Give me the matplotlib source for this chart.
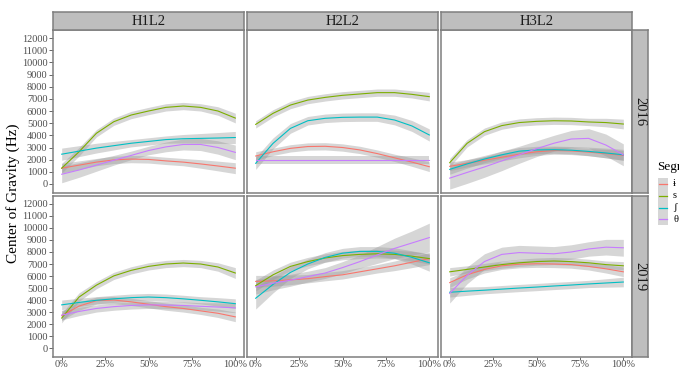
import numpy as np
import matplotlib.pyplot as plt
from matplotlib.patches import Rectangle

plt.rcParams['font.family'] = ['Liberation Serif', 'DejaVu Serif']

# ----------------- Data -----------------
pos = [0, 10, 20, 30, 40, 50, 60, 70, 80, 90, 100]   # % of segment
segments = ['ɨ', 's', 'ʃ', 'θ']
speakers = ['H1L2', 'H2L2', 'H3L2']
years = ['2016', '2019']
colors = ['#F8766D', '#7CAE00', '#00BFC4', '#C77CFF']

# 2016
h1_2016 = [
    [1300, 1550, 1800, 1980, 2050, 2020, 1900, 1800, 1650, 1480, 1300],
    [1300, 2650, 4170, 5120, 5670, 6000, 6300, 6410, 6300, 6000, 5420],
    [2450, 2700, 2950, 3150, 3350, 3500, 3650, 3720, 3750, 3780, 3820],
    [800, 1150, 1550, 1950, 2350, 2750, 3050, 3250, 3250, 3000, 2600],
]
h1_2016_se = [
    [400, 350, 300, 300, 300, 300, 300, 300, 350, 400, 450],
    [400, 350, 300, 300, 300, 300, 300, 300, 300, 350, 400],
    [500, 450, 400, 350, 300, 300, 300, 350, 400, 450, 500],
    [700, 600, 500, 400, 350, 350, 400, 450, 500, 550, 600],
]
h2_2016 = [
    [2300, 2650, 2930, 3080, 3100, 3000, 2800, 2500, 2150, 1800, 1420],
    [4900, 5810, 6490, 6900, 7120, 7290, 7400, 7510, 7510, 7370, 7180],
    [1700, 3340, 4570, 5200, 5400, 5480, 5500, 5500, 5260, 4770, 4030],
    [1970, 1970, 1970, 1970, 1970, 1970, 1970, 1970, 1970, 1970, 1970],
]
h2_2016_se = [
    [350, 300, 300, 300, 300, 300, 300, 300, 300, 350, 400],
    [300, 300, 300, 300, 300, 300, 300, 300, 300, 300, 350],
    [500, 450, 400, 350, 350, 350, 350, 350, 400, 450, 500],
    [350, 350, 350, 350, 350, 350, 350, 350, 350, 350, 350],
]
h3_2016 = [
    [1450, 1700, 1950, 2200, 2450, 2650, 2750, 2720, 2620, 2500, 2350],
    [1750, 3340, 4300, 4800, 5050, 5150, 5200, 5180, 5100, 5050, 4930],
    [1200, 1650, 2050, 2400, 2700, 2800, 2820, 2780, 2680, 2550, 2400],
    [480, 950, 1400, 1900, 2400, 2900, 3350, 3700, 3750, 3200, 2400],
]
h3_2016_se = [
    [350, 300, 300, 300, 300, 300, 300, 300, 300, 350, 400],
    [350, 300, 300, 300, 300, 300, 300, 300, 300, 350, 400],
    [400, 350, 300, 300, 300, 300, 300, 300, 350, 400, 450],
    [900, 900, 850, 800, 700, 650, 650, 700, 800, 900, 900],
]
# 2019
h1_2019 = [
    [2700, 3500, 3950, 4000, 3850, 3650, 3450, 3300, 3100, 2900, 2600],
    [2500, 4250, 5240, 6010, 6470, 6800, 7000, 7080, 7000, 6750, 6250],
    [3600, 3800, 3980, 4100, 4200, 4250, 4200, 4100, 3980, 3850, 3700],
    [2750, 3050, 3300, 3450, 3550, 3600, 3580, 3550, 3480, 3420, 3350],
]
h1_2019_se = [
    [400, 350, 300, 300, 300, 300, 300, 300, 300, 350, 400],
    [400, 350, 300, 300, 300, 300, 300, 300, 300, 350, 450],
    [400, 350, 300, 300, 300, 300, 300, 300, 300, 350, 400],
    [400, 350, 300, 300, 300, 300, 300, 300, 300, 350, 400],
]
h2_2019 = [
    [5550, 5600, 5680, 5780, 5950, 6100, 6350, 6600, 6850, 7150, 7450],
    [5200, 6100, 6800, 7200, 7500, 7700, 7800, 7850, 7800, 7650, 7450],
    [4150, 5300, 6300, 7000, 7550, 7900, 8050, 8050, 7900, 7550, 7100],
    [5100, 5400, 5650, 5950, 6250, 6700, 7200, 7750, 8300, 8750, 9200],
]
h2_2019_se = [
    [500, 450, 400, 350, 350, 350, 350, 350, 400, 450, 500],
    [450, 400, 350, 350, 350, 350, 350, 350, 350, 400, 450],
    [900, 700, 500, 400, 400, 400, 400, 400, 450, 550, 700],
    [600, 550, 500, 450, 450, 500, 550, 700, 850, 1000, 1200],
]
h3_2019 = [
    [5450, 6100, 6550, 6850, 6980, 7020, 7000, 6950, 6800, 6600, 6350],
    [6350, 6550, 6750, 6950, 7100, 7200, 7250, 7200, 7100, 6950, 6850],
    [4650, 4740, 4820, 4910, 5000, 5080, 5170, 5250, 5340, 5420, 5500],
    [4550, 6050, 7200, 7800, 7950, 7900, 7850, 8000, 8250, 8400, 8350],
]
h3_2019_se = [
    [400, 350, 300, 300, 300, 300, 300, 300, 300, 350, 400],
    [350, 300, 300, 300, 300, 300, 300, 300, 300, 300, 350],
    [400, 350, 300, 300, 300, 300, 300, 300, 300, 350, 400],
    [800, 700, 650, 600, 600, 600, 600, 600, 600, 650, 700],
]

panels = {
    ('2016', 'H1L2'): (h1_2016, h1_2016_se),
    ('2016', 'H2L2'): (h2_2016, h2_2016_se),
    ('2016', 'H3L2'): (h3_2016, h3_2016_se),
    ('2019', 'H1L2'): (h1_2019, h1_2019_se),
    ('2019', 'H2L2'): (h2_2019, h2_2019_se),
    ('2019', 'H3L2'): (h3_2019, h3_2019_se),
}

yticks = list(range(0, 12001, 1000))
xticks = [0, 25, 50, 75, 100]
xticklabels = ['0%', '25%', '50%', '75%', '100%']

# ----------------- Layout (pixels) -----------------
W, H = 679, 368
fig = plt.figure(figsize=(W / 100, H / 100), dpi=100)

def px_box(x0, y0, x1, y1):
    return [x0 / W, 1 - y1 / H, (x1 - x0) / W, (y1 - y0) / H]

col_x = [(53, 244), (247, 438), (441, 632)]
row_y = [(30, 193), (196, 357)]
border = '#7F7F7F'
strip_fill = '#BEBEBE'
tick_col = '#4D4D4D'

for r, yr in enumerate(years):
    for c, spk in enumerate(speakers):
        x0, x1 = col_x[c]
        y0, y1 = row_y[r]
        ax = fig.add_axes(px_box(x0, y0, x1, y1))
        vals, ses = panels[(yr, spk)]
        for k in range(len(segments)):
            v = np.array(vals[k])
            s = np.array(ses[k])
            ax.fill_between(pos, v - s, v + s, color='#999999', alpha=0.4, lw=0)
        for k in range(len(segments)):
            ax.plot(pos, vals[k], color=colors[k], lw=0.8)
        ax.set_xlim(-5, 105)
        ax.set_ylim(-740, 12660)
        for sp in ax.spines.values():
            sp.set_color(border)
            sp.set_linewidth(1.1)
        ax.set_yticks(yticks)
        ax.set_xticks(xticks)
        ax.tick_params(axis='y', colors=tick_col, length=3, width=0.6, labelsize=7.5, pad=1)
        ax.tick_params(axis='x', colors=tick_col, length=2, width=0.6, labelsize=7.5, pad=0.5)
        if c == 0:
            ax.set_yticklabels([str(t) for t in yticks])
        else:
            ax.tick_params(axis='y', length=0, labelleft=False)
        if r == 1:
            ax.set_xticklabels(xticklabels)
        else:
            ax.tick_params(axis='x', length=0, labelbottom=False)
        for lab in ax.get_xticklabels() + ax.get_yticklabels():
            lab.set_color(tick_col)

# top strips
for c, spk in enumerate(speakers):
    x0, x1 = col_x[c]
    sax = fig.add_axes(px_box(x0, 12, x1, 30))
    sax.set_facecolor(strip_fill)
    sax.set_xticks([])
    sax.set_yticks([])
    for sp in sax.spines.values():
        sp.set_color(border)
        sp.set_linewidth(1.1)
    sax.text(0.5, 0.45, spk, ha='center', va='center', fontsize=10.5, color='#1A1A1A',
             transform=sax.transAxes)

# right strips
for r, yr in enumerate(years):
    y0, y1 = row_y[r]
    sax = fig.add_axes(px_box(632, y0, 648, y1))
    sax.set_facecolor(strip_fill)
    sax.set_xticks([])
    sax.set_yticks([])
    for sp in sax.spines.values():
        sp.set_color(border)
        sp.set_linewidth(1.1)
    sax.text(0.5, 0.5, yr, ha='center', va='center', fontsize=10.5, color='#1A1A1A',
             rotation=-90, transform=sax.transAxes)

# y label
fig.text(13 / W, 1 - 193 / H, 'Center of Gravity (Hz)', rotation=90, ha='center',
         va='center', fontsize=11, color='black')

# legend (cut off at the right edge as in the original)
fig.text(657 / W, 1 - 167 / H, 'Segment', ha='left', va='center', fontsize=9.5)
lax = fig.add_axes([0, 0, 1, 1], facecolor='none')
lax.set_xlim(0, W)
lax.set_ylim(H, 0)
lax.axis('off')
key_y = [184, 196, 208, 219]
for k, seg in enumerate(segments):
    yc = key_y[k]
    lax.add_patch(Rectangle((657.5, yc - 6), 10.5, 12, facecolor='#D6D6D6', edgecolor='none'))
    lax.plot([658.5, 667], [yc, yc], color=colors[k], lw=0.9)
    lax.text(673, yc, seg, ha='left', va='center', fontsize=7.5,
             family=['Liberation Serif', 'DejaVu Serif'])

plt.savefig('out.png', dpi=100)
